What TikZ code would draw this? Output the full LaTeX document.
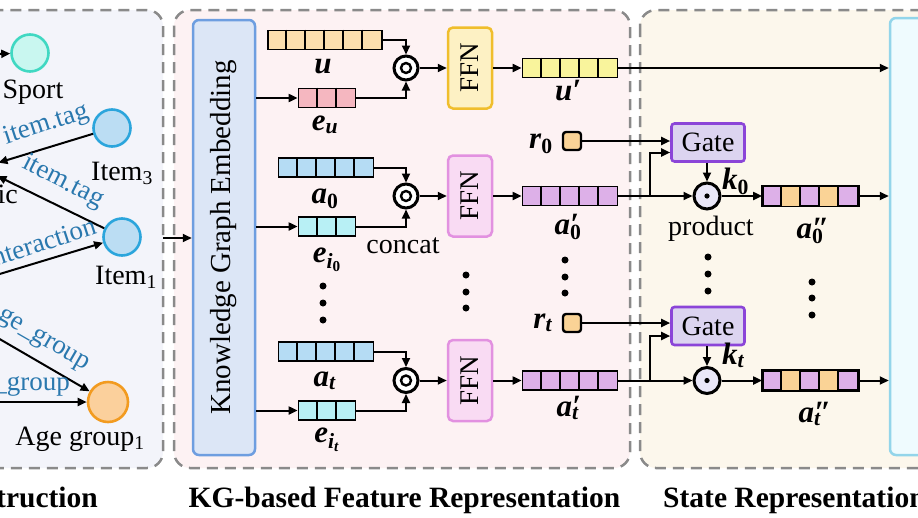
\documentclass[tikz,border=0pt]{standalone}
\usepackage{fontspec}
\setmainfont{Liberation Serif}
\usetikzlibrary{arrows.meta,calc}
\definecolor{panelA}{HTML}{F3F4FA}
\definecolor{panelB}{HTML}{FDF2F3}
\definecolor{panelC}{HTML}{FCF7EC}
\definecolor{dashgray}{HTML}{8A8A8A}
\definecolor{kgf}{HTML}{DCE6F6}
\definecolor{kgd}{HTML}{6E9EE0}
\definecolor{uf}{HTML}{FCDFAE}
\definecolor{euf}{HTML}{F5B7C0}
\definecolor{af}{HTML}{B5DCF4}
\definecolor{ef}{HTML}{B8F0F5}
\definecolor{upf}{HTML}{F9F49C}
\definecolor{apf}{HTML}{DDB0E8}
\definecolor{rf}{HTML}{FAD396}
\definecolor{ffnyf}{HTML}{FDF1C4}
\definecolor{ffnyd}{HTML}{F0BE2C}
\definecolor{ffnpf}{HTML}{F9DBF3}
\definecolor{ffnpd}{HTML}{E291E0}
\definecolor{gatef}{HTML}{DCD4F0}
\definecolor{gated}{HTML}{8B45D8}
\definecolor{prodf}{HTML}{E9E7F8}
\definecolor{rboxf}{HTML}{EFFBFE}
\definecolor{rboxd}{HTML}{93D5EA}
\definecolor{sportd}{HTML}{40D8C2}
\definecolor{sportf}{HTML}{C9F7F0}
\definecolor{itemd}{HTML}{2BA5DC}
\definecolor{itemf}{HTML}{BBDDF3}
\definecolor{aged}{HTML}{F29B20}
\definecolor{agef}{HTML}{FBD09C}
\definecolor{elabc}{HTML}{2A78AE}
\newcommand{\myfs}[1]{\fontsize{#1}{#1}\selectfont}
\newcommand{\bi}[1]{\textbf{\textit{#1}}}
\tikzset{
  conn/.style={line width=2pt, -{Triangle[length=9pt,width=8pt]}},
  plain/.style={line width=2pt},
  panel/.style={draw=dashgray, line width=2.5pt, dash pattern=on 11pt off 7pt, rounded corners=16pt},
  vecbox/.style={draw, line width=1.8pt, inner sep=0pt, minimum height=19pt},
  kgcirc/.style={circle, line width=2.6pt, minimum size=37pt, inner sep=0pt},
  lab/.style={font=\myfs{28}, inner sep=0pt},
  elab/.style={font=\myfs{27}, text=elabc, inner sep=0pt},
  mlab/.style={font=\myfs{31}, inner sep=0pt},
  titlelab/.style={font=\myfs{29.5}\bfseries, inner sep=0pt},
  ffnbox/.style={draw, line width=2.5pt, rounded corners=5pt, minimum width=44pt, minimum height=81pt, inner sep=0pt, font=\myfs{27}},
  gatebox/.style={draw=gated, fill=gatef, line width=2.6pt, rounded corners=3pt, minimum width=73pt, minimum height=38pt, inner sep=0pt, font=\myfs{28}},
  catc/.style={circle, draw, fill=white, line width=3pt, minimum size=24pt, inner sep=0pt},
  prodc/.style={circle, draw, fill=prodf, line width=3pt, minimum size=26pt, inner sep=0pt},
  rsq/.style={draw, fill=rf, line width=2.4pt, rounded corners=3pt, minimum size=18pt, inner sep=0pt},
  dotn/.style={circle, fill=black, minimum size=7pt, inner sep=0pt}
}
\newcommand{\vecn}[5]{%
  \node[vecbox, minimum width=#4*19pt, fill=#5] (#1) at (#2,#3) {};
  \pgfmathtruncatemacro\lastk{#4-1}%
  \foreach \k in {1,...,\lastk}{\draw[line width=1.8pt] ($(#1.north west)+(\k*19,0)$) -- ($(#1.south west)+(\k*19,0)$);}
}
\newcommand{\vecalt}[3]{%
  \node[vecbox, minimum width=95pt, fill=apf] (#1) at (#2,#3) {};
  \fill[rf] ($(#1.north west)+(19,0)$) rectangle ($(#1.south west)+(38,0)$);
  \fill[rf] ($(#1.north west)+(57,0)$) rectangle ($(#1.south west)+(76,0)$);
  \foreach \k in {1,...,4}{\draw[line width=1.8pt] ($(#1.north west)+(\k*19,0)$) -- ($(#1.south west)+(\k*19,0)$);}
  \draw[line width=1.8pt] (#1.north west) rectangle (#1.south east);
}
\begin{document}
\begin{tikzpicture}[x=1pt,y=-1pt]
\useasboundingbox (0,0) rectangle (918,517);
\begin{scope}
\clip (0,0) rectangle (918,517);
% panels
\path[panel, fill=panelA] (-40,10) rectangle (163,468);
\path[panel, fill=panelB] (174,10) rectangle (630,468);
\path[panel, fill=panelC] (640,10) rectangle (980,468);

% ---------- left panel: knowledge graph ----------
\node[kgcirc, draw=sportd, fill=sportf] (sport) at (30,53) {};
\node[kgcirc, draw=itemd, fill=itemf] (item3) at (112,128) {};
\node[kgcirc, draw=itemd, fill=itemf] (item1) at (122,237) {};
\node[kgcirc, draw=aged, fill=agef, minimum size=40pt] (age1) at (108,402) {};
\node[kgcirc, draw=itemd, fill=itemf, minimum size=34pt] (music) at (-19,168) {};
\coordinate (sin) at (-40,55);
\coordinate (uin) at (-40,286);
\coordinate (gin1) at (-40,316);
\coordinate (gin2) at (-40,402);

\node[lab, anchor=base] (sportlab) at (33,98) {Sport};
\node[lab, anchor=base] (item3lab) at (122,180) {Item\textsubscript{3}};
\node[lab, anchor=base] (item1lab) at (126,284) {Item\textsubscript{1}};
\node[lab, anchor=base] (age1lab) at (80,445) {Age group\textsubscript{1}};
\node[lab, anchor=base east] (musiclab) at (18,203) {Music};

\draw[conn] (sin) -- (sport);
\draw[conn] (item3) -- (music);
\draw[conn] (item1) -- (music);
\draw[conn] (uin) -- (item1);
\draw[conn] (gin1) -- (age1);
\draw[conn] (gin2) -- (age1);

\node[elab, rotate=18] (l1) at (46,125) {item.tag};
\node[elab, rotate=-27] (l2) at (63,182) {item.tag};
\node[elab, rotate=18] (l3) at (40,243) {interaction};
\node[elab, rotate=-30] (l4) at (38,338) {age\_group};
\node[elab, anchor=base east] (l5) at (70,390) {age\_group};

% ---------- KG-based feature representation ----------
\node[draw=kgd, fill=kgf, line width=2.5pt, rounded corners=6pt, minimum width=62pt, minimum height=435pt, inner sep=0pt, font=\myfs{29}] (kg) at (224,237.5) {\rotatebox{90}{Knowledge Graph Embedding}};
\coordinate (p1out) at (163,238);
\draw[conn] (p1out) -- (p1out -| kg.west);

% row u
\vecn{u}{325}{40}{6}{uf}
\vecn{eu}{327}{98}{3}{euf}
\node[catc] (c1) at (406,68) {};
\draw[line width=2.4pt] (c1.center) circle (5);
\node[ffnbox, draw=ffnyd, fill=ffnyf] (ffn1) at (470,68) {\rotatebox{90}{FFN}};
\vecn{up}{570}{68}{5}{upf}
\draw[conn] (kg.east |- eu.west) -- (eu.west);
\draw[conn] (u.east) -| (c1.north);
\draw[conn] (eu.east) -| (c1.south);
\draw[conn] (c1.east) -- (ffn1.west);
\draw[conn] (ffn1.east) -- (up.west);
\node[mlab, anchor=base] (ulab) at (323,73) {\bi{u}};
\node[mlab, anchor=base] (eulab) at (325,130) {\bi{e}\textsubscript{\bi{u}}};
\node[mlab, anchor=base] (uplab) at (568,100) {\bi{u′}};

% row 0
\vecn{a0}{326}{167.5}{5}{af}
\vecn{ei0}{327}{226.5}{3}{ef}
\node[catc] (c2) at (406,196) {};
\draw[line width=2.4pt] (c2.center) circle (5);
\node[ffnbox, draw=ffnpd, fill=ffnpf] (ffn2) at (470,196) {\rotatebox{90}{FFN}};
\vecn{ap0}{570}{196}{5}{apf}
\draw[conn] (kg.east |- ei0.west) -- (ei0.west);
\draw[conn] (a0.east) -| (c2.north);
\draw[conn] (ei0.east) -| (c2.south);
\draw[conn] (c2.east) -- (ffn2.west);
\draw[conn] (ffn2.east) -- (ap0.west);
\node[mlab, anchor=base] (a0lab) at (325,203) {\bi{a}\textsubscript{\textbf{0}}};
\node[mlab, anchor=base] (ei0lab) at (327,262) {\bi{e}\textsubscript{\bi{i}\textsubscript{\textbf{0}}}};
\node[lab, anchor=base] (concatlab) at (403,253) {concat};
\node[mlab, anchor=base] (ap0lab) at (568,234) {\bi{a}\rlap{\bi{′}}\textsubscript{\textbf{0}}};

% row t
\vecn{at}{326}{351.5}{5}{af}
\vecn{eit}{327}{410.5}{3}{ef}
\node[catc] (c3) at (406,380.5) {};
\draw[line width=2.4pt] (c3.center) circle (5);
\node[ffnbox, draw=ffnpd, fill=ffnpf] (ffn3) at (470,380.5) {\rotatebox{90}{FFN}};
\vecn{apt}{570}{380.5}{5}{apf}
\draw[conn] (kg.east |- eit.west) -- (eit.west);
\draw[conn] (at.east) -| (c3.north);
\draw[conn] (eit.east) -| (c3.south);
\draw[conn] (c3.east) -- (ffn3.west);
\draw[conn] (ffn3.east) -- (apt.west);
\node[mlab, anchor=base] (atlab) at (325,386) {\bi{a}\textsubscript{\bi{t}}};
\node[mlab, anchor=base] (eitlab) at (327,442) {\bi{e}\textsubscript{\bi{i}\textsubscript{\bi{t}}}};
\node[mlab, anchor=base] (aptlab) at (568,416) {\bi{a}\rlap{\bi{′}}\textsubscript{\bi{t}}};

% dots
\foreach \xx/\yy [count=\i] in {323/286,323/303,323/320, 466/275,466/292,466/308, 565/260,565/277,565/293, 708/257,708/274,708/291, 812/282,812/298,812/315}
  \node[dotn] (dot\i) at (\xx,\yy) {};

% r squares
\node[rsq] (r0) at (572,141) {};
\node[rsq] (rt) at (572,323) {};
\node[mlab, anchor=base east] (r0lab) at (553,148) {\bi{r}\textsubscript{\textbf{0}}};
\node[mlab, anchor=base east] (rtlab) at (553,328) {\bi{r}\textsubscript{\bi{t}}};

% ---------- state representation ----------
\node[draw=rboxd, fill=rboxf, line width=2.5pt, rounded corners=6pt, minimum width=100pt, minimum height=437pt, inner sep=0pt] (rbox) at (940,236.5) {};

\node[gatebox] (g0) at (708,142.5) {Gate};
\node[gatebox] (gt) at (708,326) {Gate};
\node[prodc] (p0) at (707,196) {};
\node[prodc] (pt) at (707,380.5) {};
\fill (p0.center) circle (2.6);
\fill (pt.center) circle (2.6);
\vecalt{app0}{810.5}{196}
\vecalt{appt}{810.5}{380.5}
\coordinate (b0) at (650,196);
\coordinate (bt) at (650,380.5);

\draw[conn] (up.east) -- (up.east -| rbox.west);
\draw[conn] (r0.east) -- (r0.east -| g0.west);
\draw[conn] (rt.east) -- (rt.east -| gt.west);
\draw[conn] (ap0.east) -- (p0.west);
\draw[conn] (apt.east) -- (pt.west);
\draw[conn] (b0) |- ([yshift=-10pt]g0.west);
\draw[conn] (bt) |- ([yshift=-10pt]gt.west);
\draw[conn] (p0.north |- g0.south) -- (p0.north);
\draw[conn] (pt.north |- gt.south) -- (pt.north);
\draw[conn] (p0.east) -- (app0.west);
\draw[conn] (pt.east) -- (appt.west);
\draw[conn] (app0.east) -- (app0.east -| rbox.west);
\draw[conn] (appt.east) -- (appt.east -| rbox.west);

\node[mlab, anchor=base west] (k0lab) at (722,189) {\bi{k}\textsubscript{\textbf{0}}};
\node[mlab, anchor=base west] (ktlab) at (722,364) {\bi{k}\textsubscript{\bi{t}}};
\node[lab, anchor=base] (prodlab) at (711,235) {product};
\node[mlab, anchor=base] (app0lab) at (810,238) {\bi{a}\rlap{\bi{″}}\textsubscript{\textbf{0}}};
\node[mlab, anchor=base] (apptlab) at (810,422) {\bi{a}\rlap{\bi{″}}\textsubscript{\bi{t}}};

% titles
\node[titlelab, anchor=base east] (t1) at (98,507) {Construction};
\node[titlelab, anchor=base] (t2) at (404.5,507) {KG-based Feature Representation};
\node[titlelab, anchor=base west] (t3) at (663,507) {State Representation};
\end{scope}
\end{tikzpicture}
\end{document}
